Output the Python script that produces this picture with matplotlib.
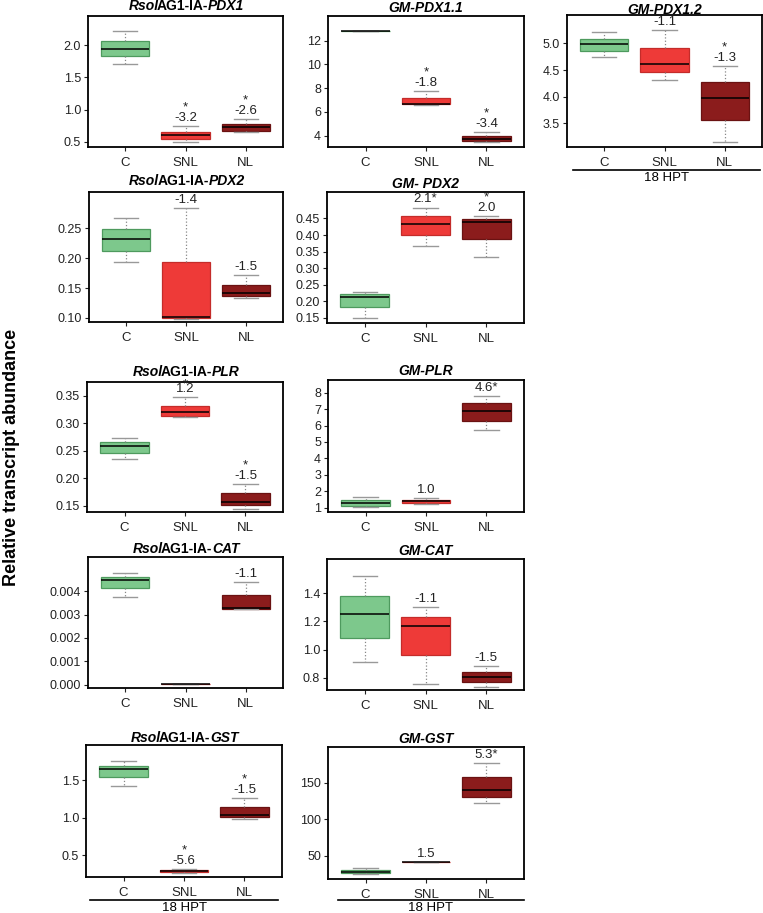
import matplotlib
matplotlib.use('Agg')
import matplotlib.pyplot as plt
from matplotlib.lines import Line2D

plt.rcParams['font.family'] = ['Liberation Sans', 'DejaVu Sans']

W, H = 763, 913

groups = ['C', 'SNL', 'NL']

# five-number summaries per group: whisker low, q1, median, q3, whisker high
rsol_pdx1 = [[1.70, 1.83, 1.94, 2.07, 2.21], [0.49, 0.55, 0.60, 0.66, 0.74], [0.66, 0.67, 0.73, 0.77, 0.86]]
gm_pdx11 = [[12.8, 12.8, 12.8, 12.8, 12.8], [6.6, 6.64, 6.67, 7.2, 7.76], [3.5, 3.58, 3.70, 3.98, 4.29]]
gm_pdx12 = [[4.74, 4.85, 4.98, 5.09, 5.21], [4.32, 4.47, 4.62, 4.92, 5.25], [3.16, 3.57, 3.97, 4.28, 4.58]]
rsol_pdx2 = [[0.193, 0.212, 0.232, 0.249, 0.267], [0.098, 0.100, 0.102, 0.194, 0.284], [0.134, 0.137, 0.141, 0.155, 0.172]]
gm_pdx2 = [[0.148, 0.181, 0.213, 0.222, 0.229], [0.367, 0.40, 0.432, 0.457, 0.483], [0.334, 0.387, 0.44, 0.448, 0.458]]
rsol_plr = [[0.235, 0.246, 0.259, 0.265, 0.274], [0.311, 0.314, 0.320, 0.332, 0.347], [0.144, 0.151, 0.156, 0.173, 0.189]]
gm_plr = [[1.05, 1.12, 1.3, 1.45, 1.65], [1.25, 1.3, 1.4, 1.5, 1.6], [5.73, 6.30, 6.89, 7.35, 7.80]]
rsol_cat = [[0.00373, 0.00411, 0.00447, 0.00461, 0.00475], [0.00003, 0.00003, 0.00003, 0.00003, 0.00003], [0.00325, 0.00325, 0.00326, 0.00383, 0.0044]]
gm_cat = [[0.914, 1.085, 1.25, 1.383, 1.525], [0.755, 0.962, 1.168, 1.234, 1.305], [0.735, 0.771, 0.807, 0.843, 0.885]]
rsol_gst = [[1.424, 1.536, 1.647, 1.69, 1.753], [0.26, 0.27, 0.285, 0.30, 0.31], [0.98, 1.003, 1.033, 1.144, 1.256]]
gm_gst = [[25, 25.9, 27.7, 30.4, 32.7], [41, 41, 41, 41, 41], [121.7, 130.8, 140, 158.2, 177.4]]

# fold-change labels above each group: (text, star on top)
lab_rsol_pdx1 = [None, ('-3.2', True), ('-2.6', True)]
lab_gm_pdx11 = [None, ('-1.8', True), ('-3.4', True)]
lab_gm_pdx12 = [None, ('-1.1', False), ('-1.3', True)]
lab_rsol_pdx2 = [None, ('-1.4', False), ('-1.5', False)]
lab_gm_pdx2 = [None, ('2.1*', False), ('2.0', True)]
lab_rsol_plr = [None, ('1.2', 'over'), ('-1.5', True)]
lab_gm_plr = [None, ('1.0', False), ('4.6*', False)]
lab_rsol_cat = [None, None, ('-1.1', False)]
lab_gm_cat = [None, ('-1.1', False), ('-1.5', False)]
lab_rsol_gst = [None, ('-5.6', True), ('-1.5', True)]
lab_gm_gst = [None, ('1.5', False), ('5.3*', False)]

fills = ['#7DC88C', '#EE3A38', '#8B1C1C']
edges = ['#4E9A5E', '#C42C2A', '#6A1212']

fig = plt.figure(figsize=(W / 100, H / 100), dpi=100)


def add_panel(x0, x1, ytop, ybot, stats, labels, title, tgap, ylim, yticks, yfmt):
    ax = fig.add_axes([x0 / W, 1 - ybot / H, (x1 - x0) / W, (ybot - ytop) / H])
    bx = []
    for i, s in enumerate(stats):
        bx.append(dict(whislo=s[0], q1=s[1], med=s[2], q3=s[3], whishi=s[4], label=groups[i]))
    res = ax.bxp(bx, positions=[1, 2, 3], widths=0.8, capwidths=0.4, patch_artist=True,
                 showfliers=False,
                 whiskerprops=dict(color='#888888', linestyle=':', linewidth=0.9),
                 capprops=dict(color='#999999', linewidth=1.0),
                 medianprops=dict(color='black', linewidth=1.1))
    for p, fc, ec in zip(res['boxes'], fills, edges):
        p.set_facecolor(fc)
        p.set_edgecolor(ec)
        p.set_linewidth(0.9)
    ax.set_xlim(0.38, 3.62)
    ax.set_ylim(*ylim)
    ax.set_yticks(yticks)
    ax.set_yticklabels([yfmt.format(v) for v in yticks])
    ax.set_xticks([1, 2, 3])
    ax.set_xticklabels(groups)
    ax.tick_params(axis='y', labelsize=9, length=3, width=0.8, pad=2, colors='#222222')
    ax.tick_params(axis='x', labelsize=9.5, length=3, width=0.8, pad=4, colors='#222222')
    for sp in ax.spines.values():
        sp.set_linewidth(1.3)
    for i, lab in enumerate(labels):
        if lab is None:
            continue
        txt, star = lab
        top = stats[i][4]
        ax.annotate(txt, (i + 1, top), xytext=(0, 1.5), textcoords='offset points',
                    ha='center', va='bottom', fontsize=9.5, color='#222222')
        if star is True:
            ax.annotate('*', (i + 1, top), xytext=(0, 9), textcoords='offset points',
                        ha='center', va='bottom', fontsize=9.5, color='#222222')
        elif star == 'over':
            ax.annotate('*', (i + 1, top), xytext=(0, 5), textcoords='offset points',
                        ha='center', va='bottom', fontsize=9.5, color='#222222')
    # title with mixed italic / upright pieces
    renderer = fig.canvas.get_renderer()
    pieces = []
    for s, st in title:
        pieces.append(fig.text(0, 0, s, fontsize=10, fontweight='bold', fontstyle=st,
                               va='baseline', ha='left'))
    widths = []
    for (s, st), t in zip(title, pieces):
        w = t.get_window_extent(renderer).width
        if st == 'italic' and len(title) > 1:
            w -= 2
        widths.append(w)
    x = (x0 + x1) / 2 - sum(widths) / 2
    for t, w in zip(pieces, widths):
        t.set_position((x / W, 1 - (ytop - tgap) / H))
        x += w
    return ax


def rsol(gene):
    return [('Rsol', 'italic'), ('AG1-IA-', 'normal'), (gene, 'italic')]


add_panel(88, 283, 16, 147, rsol_pdx1, lab_rsol_pdx1, rsol('PDX1'), 6,
          (0.42, 2.45), [0.5, 1.0, 1.5, 2.0], '{:.1f}')
add_panel(328, 524, 16, 147, gm_pdx11, lab_gm_pdx11, [('GM-PDX1.1', 'italic')], 4,
          (3.05, 14.08), [4, 6, 8, 10, 12], '{:.0f}')
add_panel(567, 762, 15, 147, gm_pdx12, lab_gm_pdx12, [('GM-PDX1.2', 'italic')], 1,
          (3.06, 5.53), [3.5, 4.0, 4.5, 5.0], '{:.1f}')
add_panel(89, 283, 192, 322, rsol_pdx2, lab_rsol_pdx2, rsol('PDX2'), 7,
          (0.093, 0.311), [0.10, 0.15, 0.20, 0.25], '{:.2f}')
add_panel(327, 524, 192, 323, gm_pdx2, lab_gm_pdx2, [('GM- PDX2', 'italic')], 4,
          (0.134, 0.53), [0.15, 0.20, 0.25, 0.30, 0.35, 0.40, 0.45], '{:.2f}')
add_panel(87, 283, 382, 512, rsol_plr, lab_rsol_plr, rsol('PLR'), 6,
          (0.1385, 0.375), [0.15, 0.20, 0.25, 0.30, 0.35], '{:.2f}')
add_panel(328, 524, 380, 512, gm_plr, lab_gm_plr, [('GM-PLR', 'italic')], 5,
          (0.74, 8.77), [1, 2, 3, 4, 5, 6, 7, 8], '{:.0f}')
add_panel(88, 283, 557, 688, rsol_cat, lab_rsol_cat, rsol('CAT'), 4,
          (-0.00013, 0.00545), [0.000, 0.001, 0.002, 0.003, 0.004], '{:.3f}')
add_panel(327, 524, 559, 690, gm_cat, lab_gm_cat, [('GM-CAT', 'italic')], 4,
          (0.712, 1.644), [0.8, 1.0, 1.2, 1.4], '{:.1f}')
add_panel(86, 282, 745, 877, rsol_gst, lab_rsol_gst, rsol('GST'), 3,
          (0.207, 1.967), [0.5, 1.0, 1.5], '{:.1f}')
add_panel(328, 524, 747, 879, gm_gst, lab_gm_gst, [('GM-GST', 'italic')], 4,
          (18, 199), [50, 100, 150], '{:.0f}')


def hpt(x0, x1, y):
    fig.add_artist(Line2D([x0 / W, x1 / W], [1 - y / H, 1 - y / H], color='black', linewidth=1.2))
    fig.text((x0 + x1) / 2 / W, 1 - (y + 2) / H, '18 HPT', ha='center', va='top', fontsize=9.5)


hpt(573, 760, 170)
hpt(90, 278, 900)
hpt(338, 524, 900)

fig.text(12 / W, 1 - 457 / H, 'Relative transcript abundance', rotation=90, ha='center',
         va='center', fontsize=13, fontweight='bold')

fig.savefig('out.png', dpi=100)
